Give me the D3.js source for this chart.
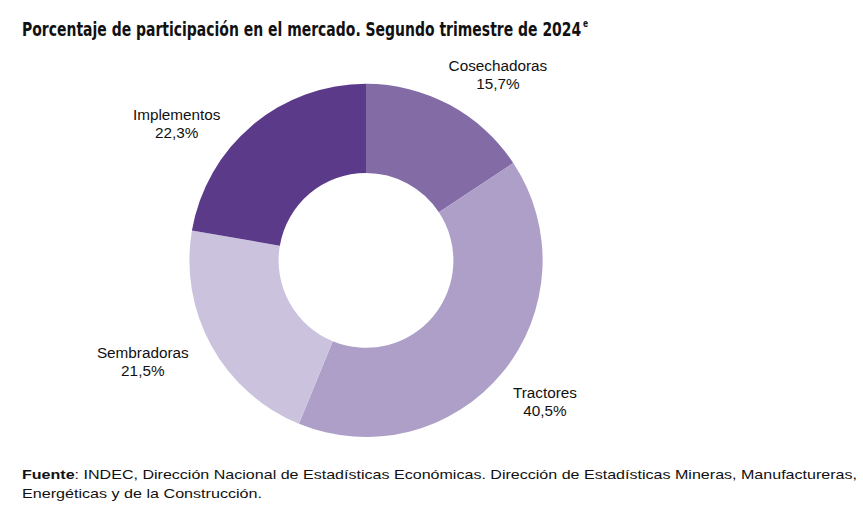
<!DOCTYPE html>
<html><head><meta charset="utf-8">
<script src="https://cdn.jsdelivr.net/npm/d3@7"></script>
<style>
body{margin:0;background:#fff;}
svg{display:block;}
</style></head>
<body>
<svg id="c" width="863" height="515"></svg>
<script>
const categories = ["Cosechadoras","Tractores","Sembradoras","Implementos"];
const values = [15.7, 40.5, 21.5, 22.3];
const colors = ["#836ba6","#ad9fc7","#cbc2de","#5c3a8a"];
const titleText = "Porcentaje de participación en el mercado. Segundo trimestre de 2024";
const titleSup = "e";
const sourceBold = "Fuente";
const sourceLine1 = ": INDEC, Dirección Nacional de Estadísticas Económicas. Dirección de Estadísticas Mineras, Manufactureras,";
const sourceLine2 = "Energéticas y de la Construcción.";

const svg = d3.select("#c");
const narrow = "'Liberation Sans Narrow','Arial Narrow','DejaVu Sans Condensed',sans-serif";
const sans = "'Liberation Sans',Arial,Helvetica,sans-serif";

// title
const t = svg.append("text").attr("x",22).attr("y",35.5)
  .attr("textLength",566).attr("lengthAdjust","spacingAndGlyphs")
  .style("font-family",narrow).style("font-weight","bold").style("font-size","19.5px").attr("fill","#111");
t.append("tspan").text(titleText);
t.append("tspan").attr("dx",2).attr("dy",-9).style("font-size","10.5px").text(titleSup);

// donut
const cx = 366, cy = 260.4, R = 176.6, r = 87.4;
const g = svg.append("g").attr("transform",`translate(${cx},${cy})`);
const data = categories.map((c,i)=>({cat:c,val:values[i],color:colors[i]}));
const pie = d3.pie().sort(null).value(d=>d.val);
const arc = d3.arc().innerRadius(r).outerRadius(R);
const arcs = pie(data);
g.selectAll("path").data(arcs).enter().append("path")
  .attr("d",arc).attr("fill",d=>d.data.color);

// labels
const labelArc = d3.arc().innerRadius(230).outerRadius(230);
const nudge = {"Cosechadoras":[23,17],"Tractores":[1.3,-4.3],"Sembradoras":[-22,-9.6],"Implementos":[-41,39.3]};
const fmt = v => d3.format(".1f")(v).replace(".",",") + "%";
arcs.forEach(a=>{
  const [x,y] = labelArc.centroid(a);
  const n = nudge[a.data.cat];
  const tx = g.append("text").attr("text-anchor","middle")
    .attr("transform",`translate(${x+n[0]},${y+n[1]})`)
    .style("font-family",sans).style("font-size","15.3px").attr("fill","#111");
  tx.append("tspan").attr("x",0).attr("y",-4).text(a.data.cat);
  tx.append("tspan").attr("x",0).attr("y",14.2).text(fmt(a.data.val));
});

// source
const s = svg.append("text").attr("x",22).attr("y",479)
  .attr("textLength",835).attr("lengthAdjust","spacingAndGlyphs")
  .style("font-family",sans).style("font-size","13.2px").attr("fill","#111");
s.append("tspan").style("font-weight","bold").text(sourceBold);
s.append("tspan").text(sourceLine1);
svg.append("text").attr("x",22).attr("y",498.3)
  .attr("textLength",240).attr("lengthAdjust","spacingAndGlyphs")
  .style("font-family",sans).style("font-size","13.2px").attr("fill","#111").text(sourceLine2);
</script>
</body></html>
